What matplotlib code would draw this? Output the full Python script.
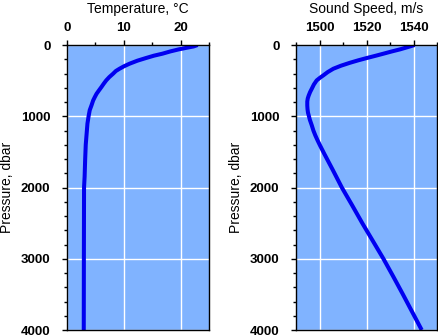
import matplotlib
matplotlib.use("Agg")
import matplotlib.pyplot as plt
from matplotlib.ticker import MultipleLocator

pressure_t = [0, 20, 40, 61, 90, 122, 150, 183, 220, 263, 300, 333, 365, 404, 450, 497, 545, 591, 640,
              685, 730, 779, 850, 915, 1000, 1103, 1250, 1400, 1600, 1850, 2000, 3000, 4000]
temperature = [23.0, 22.3, 21.0, 19.7, 18.2, 16.8, 15.3, 13.9, 12.4, 11.0, 10.0, 9.25, 8.6, 8.1, 7.45,
               6.9, 6.45, 6.05, 5.6, 5.2, 4.9, 4.6, 4.3, 4.0, 3.8, 3.6, 3.45, 3.3, 3.2, 3.1, 3.0, 2.97, 2.95]

pressure_c = [0, 30, 61, 90, 122, 150, 183, 215, 249, 290, 333, 380, 427, 460, 497, 555, 615, 660, 709,
              750, 793, 850, 900, 950, 986, 1050, 1126, 1200, 1267, 1340, 1408, 1525, 1750, 2000, 2250,
              2500, 2750, 3000, 3250, 3500, 3750, 4000]
sound_speed = [1540.5, 1537.5, 1534.3, 1530.8, 1527.2, 1524.0, 1520.1, 1516.5, 1513.0, 1509.2, 1505.9,
               1503.5, 1501.6, 1500.2, 1498.8, 1497.6, 1496.7, 1496.0, 1495.4, 1495.0, 1494.8, 1494.8,
               1494.9, 1495.1, 1495.4, 1495.9, 1496.7, 1497.4, 1498.2, 1499.2, 1500.2, 1502.0, 1505.6,
               1509.5, 1513.9, 1518.2, 1522.7, 1527.2, 1531.4, 1535.5, 1539.5, 1543.5]

plt.rcParams['font.family'] = ['Liberation Sans', 'DejaVu Sans']

W, H = 438, 336
fig = plt.figure(figsize=(W/100, H/100), dpi=100)
bg = '#80b3ff'
line_c = '#0000f0'

def setup(ax, xlabel, xlim, xmaj, xmin):
    ax.set_facecolor(bg)
    ax.set_xlim(*xlim)
    ax.set_ylim(4000, 0)
    ax.xaxis.tick_top()
    ax.xaxis.set_label_position('top')
    ax.xaxis.set_major_locator(MultipleLocator(xmaj))
    ax.xaxis.set_minor_locator(MultipleLocator(xmin))
    ax.yaxis.set_major_locator(MultipleLocator(1000))
    ax.yaxis.set_minor_locator(MultipleLocator(200))
    ax.tick_params(which='major', direction='out', length=3.6, width=1, labelsize=9.5, pad=4.5)
    ax.tick_params(axis='y', which='major', length=3.9, pad=8)
    ax.tick_params(which='minor', direction='out', length=2.2, width=1)
    for lab in ax.get_xticklabels() + ax.get_yticklabels():
        lab.set_fontweight('bold')
    ax.grid(True, which='major', color='white', linewidth=1)
    ax.set_axisbelow(True)
    ax.set_xlabel(xlabel, fontsize=10, labelpad=6)
    ax.set_ylabel('Pressure, dbar', fontsize=10, labelpad=5)
    for s in ax.spines.values():
        s.set_linewidth(1)

ax1 = fig.add_axes([67/W, 1-330/H, 142/W, 285/H])
setup(ax1, 'Temperature, °C', (0, 25), 10, 5)
ax1.plot(temperature, pressure_t, color=line_c, lw=2.9, solid_capstyle='butt', solid_joinstyle='round')

ax2 = fig.add_axes([296/W, 1-330/H, 141/W, 285/H])
setup(ax2, 'Sound Speed, m/s', (1490, 1550), 20, 10)
ax2.plot(sound_speed, pressure_c, color=line_c, lw=2.9, solid_capstyle='butt', solid_joinstyle='round')

fig.savefig('out.png', dpi=100)
